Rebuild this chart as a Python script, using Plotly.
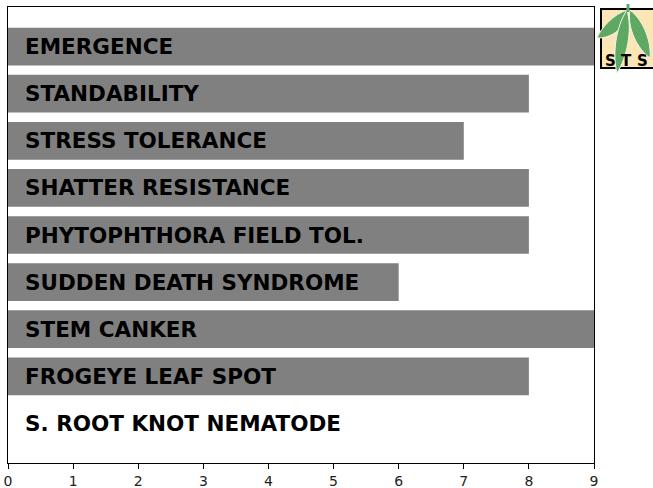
import plotly.graph_objects as go

categories = ["EMERGENCE", "STANDABILITY", "STRESS TOLERANCE", "SHATTER RESISTANCE",
              "PHYTOPHTHORA FIELD TOL.", "SUDDEN DEATH SYNDROME", "STEM CANKER",
              "FROGEYE LEAF SPOT", "S. ROOT KNOT NEMATODE"]
values = [9, 8, 7, 8, 8, 6, 9, 8, 0]
x_ticks = [0, 1, 2, 3, 4, 5, 6, 7, 8, 9]

W, H = 653, 488
ML, MR, MT, MB = 8, 59, 7, 25
PW, PH = W - ML - MR, H - MT - MB

def px(x):
    return (x - ML) / PW

def py(y):
    return (H - MB - y) / PH

positions = list(range(len(categories)))

fig = go.Figure()
fig.add_trace(go.Bar(
    x=values, y=positions, orientation="h",
    marker=dict(color="#808080", line=dict(width=0)),
    width=0.8, hoverinfo="skip", showlegend=False,
))

annotations = []
for i, c in enumerate(categories):
    annotations.append(dict(
        x=0, y=i, xref="x", yref="y", text=c, showarrow=False,
        xanchor="left", yanchor="middle", xshift=15,
        font=dict(family="DejaVu Sans", size=21.5, color="black", weight="bold"),
    ))

# Logo (drawn with shapes)
shapes = []
shapes.append(dict(type="rect", xref="paper", yref="paper",
                   x0=px(601), x1=px(662), y0=py(68), y1=py(9),
                   fillcolor="#fce5b6", line=dict(color="black", width=2), layer="above"))

def leaf(base, tip, w1, w2):
    bx, by = base
    tx, ty = tip
    dx, dy = tx - bx, ty - by
    L = (dx * dx + dy * dy) ** 0.5
    nx, ny = -dy / L, dx / L
    a = (bx + dx * 0.3 + nx * w1, by + dy * 0.3 + ny * w1)
    b = (bx + dx * 0.75 + nx * w1 * 0.8, by + dy * 0.75 + ny * w1 * 0.8)
    c = (bx + dx * 0.75 - nx * w2 * 0.8, by + dy * 0.75 - ny * w2 * 0.8)
    d = (bx + dx * 0.3 - nx * w2, by + dy * 0.3 - ny * w2)
    def P(p):
        return f"{px(p[0]):.5f},{py(p[1]):.5f}"
    return f"M {P(base)} C {P(a)} {P(b)} {P(tip)} C {P(c)} {P(d)} {P(base)} Z"

green = "#5ea862"
leaves = [
    ((627, 10), (597, 38), 6, 13),
    ((627, 10), (617, 73), 9, 9),
    ((630, 10), (650, 58), 10, 9),
]
for b, t, w1, w2 in leaves:
    shapes.append(dict(type="path", xref="paper", yref="paper", path=leaf(b, t, w1, w2),
                       fillcolor=green, line=dict(color="#f4f6ea", width=1), layer="above"))
shapes.append(dict(type="line", xref="paper", yref="paper",
                   x0=px(628), x1=px(628), y0=py(12), y1=py(4),
                   line=dict(color=green, width=3), layer="above"))

for letter, x in [("S", 610), ("T", 626), ("S", 642)]:
    annotations.append(dict(
        x=px(x), y=py(61), xref="paper", yref="paper", text=letter, showarrow=False,
        xanchor="center", yanchor="middle",
        font=dict(family="DejaVu Sans", size=15, color="black", weight="bold"),
    ))

fig.update_layout(
    width=W, height=H,
    margin=dict(l=ML, r=MR, t=MT, b=MB, pad=0, autoexpand=False),
    plot_bgcolor="white", paper_bgcolor="white",
    bargap=0.2,
    xaxis=dict(range=[0, 9], tickvals=x_ticks, ticktext=[str(v) for v in x_ticks],
               automargin=False,
               showgrid=False, zeroline=False, showline=True, mirror=True,
               linecolor="black", linewidth=1, ticks="outside", ticklen=5,
               tickcolor="black", tickwidth=1,
               tickfont=dict(family="DejaVu Sans", size=14, color="#222")),
    yaxis=dict(range=[8.84, -0.84], showticklabels=False, showgrid=False,
               automargin=False,
               zeroline=False, showline=True, mirror=True, linecolor="black",
               linewidth=1, ticks=""),
    shapes=shapes,
    annotations=annotations,
)

fig.write_html("out.html", config={"displayModeBar": False},
               post_script="document.body.style.margin='0';document.body.style.overflow='hidden';")
